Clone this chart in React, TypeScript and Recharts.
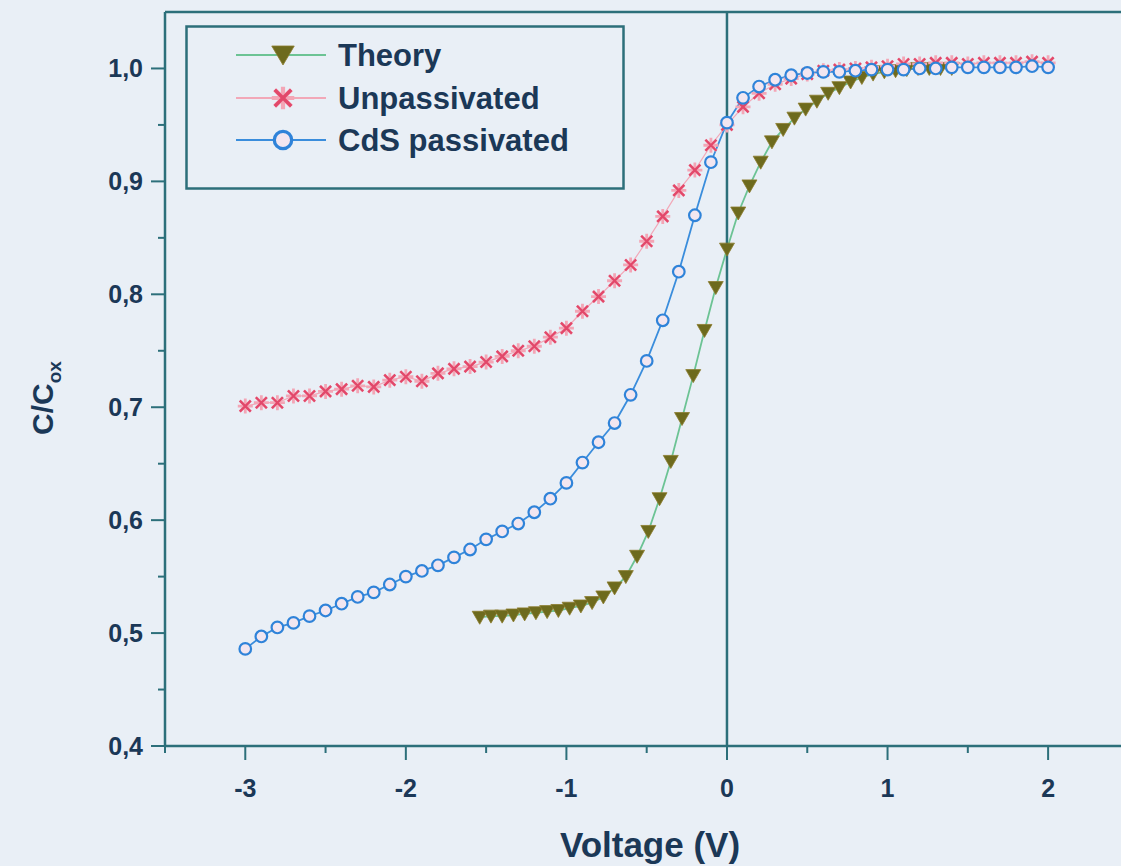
import { LineChart, Line, XAxis, YAxis, ReferenceLine, Legend } from 'recharts';

// bias voltage grid shared by both measured curves (V)
const volts = [
  -3.0, -2.9, -2.8, -2.7, -2.6, -2.5, -2.4, -2.3, -2.2, -2.1,
  -2.0, -1.9, -1.8, -1.7, -1.6, -1.5, -1.4, -1.3, -1.2, -1.1,
  -1.0, -0.9, -0.8, -0.7, -0.6, -0.5, -0.4, -0.3, -0.2, -0.1,
  0.0, 0.1, 0.2, 0.3, 0.4, 0.5, 0.6, 0.7, 0.8, 0.9,
  1.0, 1.1, 1.2, 1.3, 1.4, 1.5, 1.6, 1.7, 1.8, 1.9, 2.0,
];

const unpassivated = [
  0.701, 0.704, 0.704, 0.710, 0.710, 0.714, 0.716, 0.719, 0.718, 0.724,
  0.727, 0.723, 0.730, 0.734, 0.736, 0.740, 0.745, 0.750, 0.754, 0.762,
  0.770, 0.785, 0.798, 0.812, 0.826, 0.847, 0.869, 0.892, 0.910, 0.932,
  0.950, 0.966, 0.978, 0.986, 0.991, 0.995, 0.998, 0.999, 1.000, 1.001,
  1.002, 1.004, 1.004, 1.005, 1.005, 1.004, 1.005, 1.005, 1.005, 1.006, 1.005,
];

const cdsPassivated = [
  0.486, 0.497, 0.505, 0.509, 0.515, 0.520, 0.526, 0.532, 0.536, 0.543,
  0.550, 0.555, 0.560, 0.567, 0.574, 0.583, 0.590, 0.597, 0.607, 0.619,
  0.633, 0.651, 0.669, 0.686, 0.711, 0.741, 0.777, 0.820, 0.870, 0.917,
  0.952, 0.974, 0.984, 0.990, 0.994, 0.996, 0.997, 0.997, 0.998, 0.999,
  0.999, 0.999, 1.000, 1.000, 1.001, 1.001, 1.001, 1.001, 1.001, 1.002, 1.001,
];

// ideal high-frequency C-V curve, computed on its own voltage grid
const theoryVolts = [
  -1.54, -1.47, -1.40, -1.33, -1.26, -1.19, -1.12, -1.05, -0.98, -0.91,
  -0.84, -0.77, -0.70, -0.63, -0.56, -0.49, -0.42, -0.35, -0.28, -0.21,
  -0.14, -0.07, 0.00, 0.07, 0.14, 0.21, 0.28, 0.35, 0.42, 0.49,
  0.56, 0.63, 0.70, 0.77, 0.84, 0.91, 0.98, 1.05, 1.12, 1.19,
  1.26, 1.33, 1.40,
];

const theory = [
  0.514, 0.515, 0.515, 0.516, 0.517, 0.518, 0.519, 0.520, 0.522, 0.524,
  0.527, 0.532, 0.540, 0.550, 0.568, 0.590, 0.619, 0.652, 0.690, 0.728,
  0.768, 0.806, 0.840, 0.872, 0.896, 0.917, 0.935, 0.946, 0.956, 0.964,
  0.971, 0.978, 0.983, 0.988, 0.992, 0.995, 0.997, 0.998, 0.999, 1.000,
  1.000, 1.000, 1.000,
];

const seriesNames = ['Theory', 'Unpassivated', 'CdS passivated'];

const xTicks = [-3.5, -3, -2.5, -2, -1.5, -1, -0.5, 0, 0.5, 1, 1.5, 2];
const yTicks = [0.4, 0.45, 0.5, 0.55, 0.6, 0.65, 0.7, 0.75, 0.8, 0.85, 0.9, 0.95, 1.0];

const theoryData = theoryVolts.map((x, i) => ({ x, y: theory[i] }));
const unpassData = volts.map((x, i) => ({ x, y: unpassivated[i] }));
const cdsData = volts.map((x, i) => ({ x, y: cdsPassivated[i] }));

const BG = '#e9eff6';
const AXIS = '#2c6f7a';
const INK = '#1b3857';
const FONT = '"Liberation Sans", Arial, sans-serif';

const THEORY_LINE = '#6cc394';
const THEORY_FILL = '#6d6a1d';
const UNPASS_LINE = '#f2a8b8';
const UNPASS_MARK = '#e2486a';
const CDS_LINE = '#3a8ddc';

function triangle(cx: number, cy: number, s = 1, key?: string) {
  const w = 7.5 * s;
  const h = 6 * s;
  return (
    <path
      key={key}
      d={`M${cx - w},${cy - h} L${cx + w},${cy - h} L${cx},${cy + h + 1} Z`}
      fill={THEORY_FILL}
      stroke="#8b7b2c"
      strokeWidth={0.8}
    />
  );
}

function star(cx: number, cy: number, s = 1, key?: string) {
  const d = 5.5 * s;
  const p = 7.5 * s;
  return (
    <g key={key}>
      <path
        d={`M${cx - d},${cy - d} L${cx + d},${cy + d} M${cx - d},${cy + d} L${cx + d},${cy - d} M${cx - p},${cy} L${cx + p},${cy} M${cx},${cy - p} L${cx},${cy + p}`}
        stroke="#f3a6b6"
        strokeWidth={2.8 * s}
      />
      <path
        d={`M${cx - d},${cy - d} L${cx + d},${cy + d} M${cx - d},${cy + d} L${cx + d},${cy - d}`}
        stroke={UNPASS_MARK}
        strokeWidth={2.3 * s}
      />
    </g>
  );
}

function ring(cx: number, cy: number, s = 1, key?: string) {
  return <circle key={key} cx={cx} cy={cy} r={5.8 * s} fill="#f2e6f0" stroke="#2f83d9" strokeWidth={2.2 * s} />;
}

const XTick = (props: any) => {
  const { x, y, payload } = props;
  const v = payload.value as number;
  const major = Math.abs(v - Math.round(v)) < 1e-6;
  return (
    <g>
      <line x1={x} x2={x} y1={y} y2={y + (major ? 14 : 7)} stroke={AXIS} strokeWidth={2} />
      {major && (
        <text x={x} y={y + 51} textAnchor="middle" fill={INK} fontSize={25} fontWeight="bold" fontFamily={FONT}>
          {String(Math.round(v))}
        </text>
      )}
    </g>
  );
};

const YTick = (props: any) => {
  const { x, y, payload } = props;
  const v = payload.value as number;
  const major = Math.abs(v * 10 - Math.round(v * 10)) < 1e-6;
  return (
    <g>
      <line x1={x} x2={x - (major ? 14 : 7)} y1={y} y2={y} stroke={AXIS} strokeWidth={2} />
      {major && (
        <text x={x - 22} y={y} dy="0.36em" textAnchor="end" fill={INK} fontSize={25} fontWeight="bold" fontFamily={FONT}>
          {v.toFixed(1).replace('.', ',')}
        </text>
      )}
    </g>
  );
};

const LegendBox = () => {
  const rows = [
    { name: seriesNames[0], y: 30, line: THEORY_LINE, mark: triangle },
    { name: seriesNames[1], y: 73, line: UNPASS_LINE, mark: star },
    { name: seriesNames[2], y: 115, line: CDS_LINE, mark: ring },
  ];
  return (
    <svg width={440} height={165} style={{ display: 'block' }}>
      <rect x={1.5} y={1.5} width={437} height={162} fill="none" stroke={AXIS} strokeWidth={2.5} />
      {rows.map((r) => (
        <g key={r.name}>
          <line x1={51} x2={141} y1={r.y} y2={r.y} stroke={r.line} strokeWidth={1.8} />
          {r.mark(98, r.y, 1.5)}
          <text x={153} y={r.y} dy="0.36em" fill={INK} fontSize={31} fontWeight="bold" fontFamily={FONT}>
            {r.name}
          </text>
        </g>
      ))}
    </svg>
  );
};

export default function App() {
  return (
    <div style={{ position: 'fixed', left: 0, top: 0, width: 1121, height: 866, background: BG, fontFamily: FONT }}>
      <LineChart width={1121} height={866} margin={{ top: 12, right: 0, bottom: 0, left: 0 }}>
        <XAxis
          type="number"
          dataKey="x"
          domain={[-3.5, 2.454]}
          allowDataOverflow
          ticks={xTicks}
          interval={0}
          tickSize={0}
          tickMargin={0}
          tickLine={false}
          tick={<XTick />}
          height={120}
          axisLine={{ stroke: AXIS, strokeWidth: 2.5 }}
          label={{
            content: (p: any) => {
              const vb = p.viewBox;
              return (
                <text x={vb.x + vb.width / 2 + 7} y={vb.y + 111} textAnchor="middle" fill={INK} fontSize={35} fontWeight="bold" fontFamily={FONT}>
                  Voltage (V)
                </text>
              );
            },
          }}
        />
        <YAxis
          type="number"
          dataKey="y"
          domain={[0.4, 1.05]}
          allowDataOverflow
          ticks={yTicks}
          interval={0}
          tickSize={0}
          tickMargin={0}
          tickLine={false}
          tick={<YTick />}
          width={165}
          axisLine={{ stroke: AXIS, strokeWidth: 2.5 }}
          label={{
            content: () => (
              <text
                x={53}
                y={398}
                transform="rotate(-90, 53, 398)"
                textAnchor="middle"
                fill={INK}
                fontSize={30}
                fontWeight="bold"
                fontFamily={FONT}
              >
                C/C
                <tspan fontSize={19} dy={8}>ox</tspan>
              </text>
            ),
          }}
        />
        <ReferenceLine x={0} stroke={AXIS} strokeWidth={2.5} />
        <ReferenceLine y={1.05} stroke={AXIS} strokeWidth={2.5} ifOverflow="extendDomain" />
        <Legend
          layout="vertical"
          align="center"
          verticalAlign="middle"
          content={() => <LegendBox />}
          wrapperStyle={{ left: 185, top: 25, width: 440, height: 165 }}
        />
        <Line
          data={theoryData}
          dataKey="y"
          name={seriesNames[0]}
          stroke={THEORY_LINE}
          strokeWidth={1.8}
          dot={(p: any) => triangle(p.cx, p.cy, 1, `t${p.index}`)}
          activeDot={false}
          isAnimationActive={false}
        />
        <Line
          data={unpassData}
          dataKey="y"
          name={seriesNames[1]}
          stroke={UNPASS_LINE}
          strokeWidth={1.2}
          dot={(p: any) => star(p.cx, p.cy, 1, `u${p.index}`)}
          activeDot={false}
          isAnimationActive={false}
        />
        <Line
          data={cdsData}
          dataKey="y"
          name={seriesNames[2]}
          stroke={CDS_LINE}
          strokeWidth={1.8}
          dot={(p: any) => ring(p.cx, p.cy, 1, `c${p.index}`)}
          activeDot={false}
          isAnimationActive={false}
        />
      </LineChart>
    </div>
  );
}
